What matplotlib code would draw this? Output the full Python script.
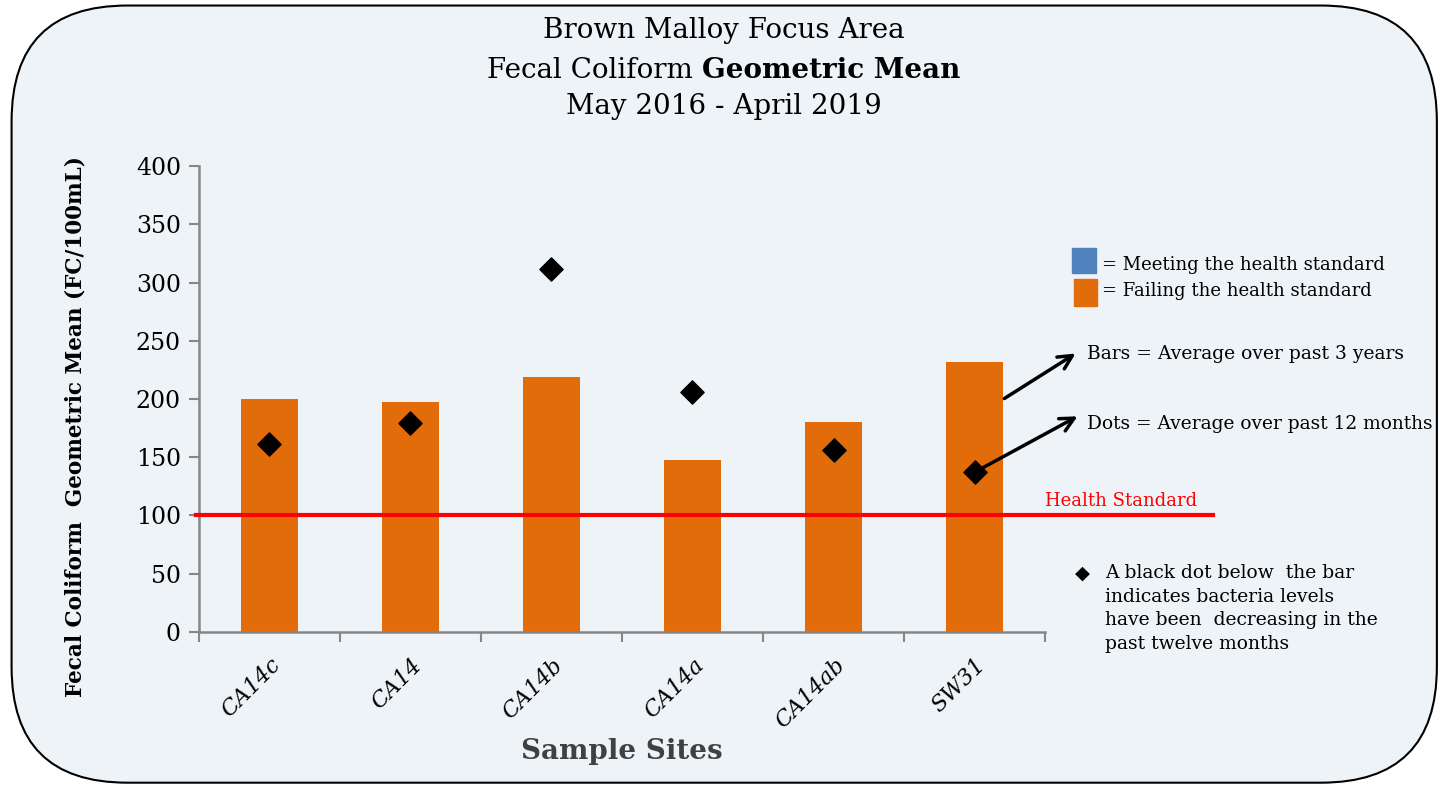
import matplotlib.pyplot as plt
from matplotlib.patches import FancyBboxPatch, Rectangle

sites = ["CA14c", "CA14", "CA14b", "CA14a", "CA14ab", "SW31"]
bar_means = [200, 197, 219, 148, 180, 232]      # average over past 3 years
dot_means = [161, 179, 312, 206, 156, 137]      # average over past 12 months
health_standard = 100
y_ticks = [0, 50, 100, 150, 200, 250, 300, 350, 400]

orange = "#E36C0A"
blue = "#4F81BD"
bg = "#EEF3F8"

plt.rcParams['font.family'] = ['DejaVu Serif']

W, H = 1447, 789
fig = plt.figure(figsize=(W / 100, H / 100), dpi=100)
fig.patch.set_facecolor("white")

# rounded background panel
panel = FancyBboxPatch((0.008, 0.008), 0.985, 0.985,
                       boxstyle="round,pad=0,rounding_size=0.08",
                       transform=fig.transFigure, facecolor=bg,
                       edgecolor="black", linewidth=1.5, zorder=-5,
                       mutation_aspect=W / H)
fig.patches.append(panel)

ax = fig.add_axes([0.1375, 0.199, 0.5847, 0.5906])
ax.set_facecolor("none")
ax.set_zorder(2)

x = list(range(len(sites)))
ax.bar(x, bar_means, width=0.41, color=orange, zorder=2)
ax.scatter(x, dot_means, marker="D", s=140, color="black", zorder=4)

ax.set_xlim(-0.5, len(sites) - 0.5)
ax.set_ylim(0, 400)
ax.set_yticks(y_ticks)
ax.set_yticklabels([str(v) for v in y_ticks], fontsize=17)
ax.set_xticks([i - 0.5 for i in range(len(sites) + 1)])
ax.set_xticklabels([])
ax.set_xticks(x, minor=True)
ax.set_xticklabels(sites, minor=True, rotation=45, ha="right", va="top",
                   rotation_mode="anchor", fontsize=16, style="italic")
ax.tick_params(axis="x", which="minor", length=0, pad=16)
ax.tick_params(axis="x", which="major", length=7, color="#868686", width=1.5)
ax.tick_params(axis="y", length=7, color="#868686", width=1.5, pad=6)
for side in ["top", "right"]:
    ax.spines[side].set_visible(False)
for side in ["left", "bottom"]:
    ax.spines[side].set_color("#868686")
    ax.spines[side].set_linewidth(1.8)

# health standard line extends past the axes
ax.plot([-0.52, 6.69], [health_standard, health_standard], color="red",
        lw=3, clip_on=False, zorder=3)
ax.text(5.5, health_standard + 5, "Health Standard", color="red",
        fontsize=13, va="bottom", ha="left")

ax.set_ylabel("Fecal Coliform  Geometric Mean (FC/100mL)", fontsize=15.5,
              fontweight="bold")
ax.yaxis.set_label_coords(-0.133, 0.44)
ax.set_xlabel("Sample Sites", fontsize=20, fontweight="bold",
              color="#404040", labelpad=4)

# title
fig.text(0.5, 1 - 30 / H, "Brown Malloy Focus Area", ha="center",
         va="center", fontsize=20)
fig.text(0.5, 1 - 107 / H, "May 2016 - April 2019", ha="center",
         va="center", fontsize=20)
t1 = fig.text(0, 1 - 71 / H, "Fecal Coliform ", va="center", fontsize=20)
t2 = fig.text(0, 1 - 71 / H, "Geometric Mean", va="center", fontsize=20,
              fontweight="bold")
r = fig.canvas.get_renderer()
w1 = t1.get_window_extent(r).width / W
w2 = t2.get_window_extent(r).width / W
t1.set_x(0.5 - (w1 + w2) / 2)
t2.set_x(0.5 - (w1 + w2) / 2 + w1)

# legend
fig.patches.append(Rectangle((1072 / W, 1 - 273 / H), 24 / W, 25 / H,
                             transform=fig.transFigure, color=blue))
fig.patches.append(Rectangle((1074 / W, 1 - 306 / H), 23 / W, 27 / H,
                             transform=fig.transFigure, color=orange))
fig.text(1102 / W, 1 - 265 / H, "= Meeting the health standard",
         fontsize=13, va="center")
fig.text(1102 / W, 1 - 291 / H, "= Failing the health standard",
         fontsize=13, va="center")

# arrows and notes
ax.annotate("", xy=(1078, H - 352), xytext=(1002, H - 400),
            xycoords="figure pixels", textcoords="figure pixels",
            arrowprops=dict(arrowstyle="->", lw=2.5, color="black",
                            mutation_scale=25))
ax.annotate("", xy=(1080, H - 415), xytext=(975, H - 472),
            xycoords="figure pixels", textcoords="figure pixels",
            arrowprops=dict(arrowstyle="->", lw=2.5, color="black",
                            mutation_scale=25))
fig.text(1087 / W, 1 - 354 / H, "Bars = Average over past 3 years",
         fontsize=13.5, va="center")
fig.text(1087 / W, 1 - 424 / H, "Dots = Average over past 12 months",
         fontsize=13.4, va="center")

fig.text(1082 / W, 1 - 574 / H, "\u25C6", fontsize=14, ha="center",
         va="center")
fig.text(1105 / W, 1 - 564 / H,
         "A black dot below  the bar\nindicates bacteria levels\n"
         "have been  decreasing in the\npast twelve months",
         fontsize=13.5, va="top", linespacing=1.4)

fig.savefig("out.png", dpi=100, facecolor="white")
